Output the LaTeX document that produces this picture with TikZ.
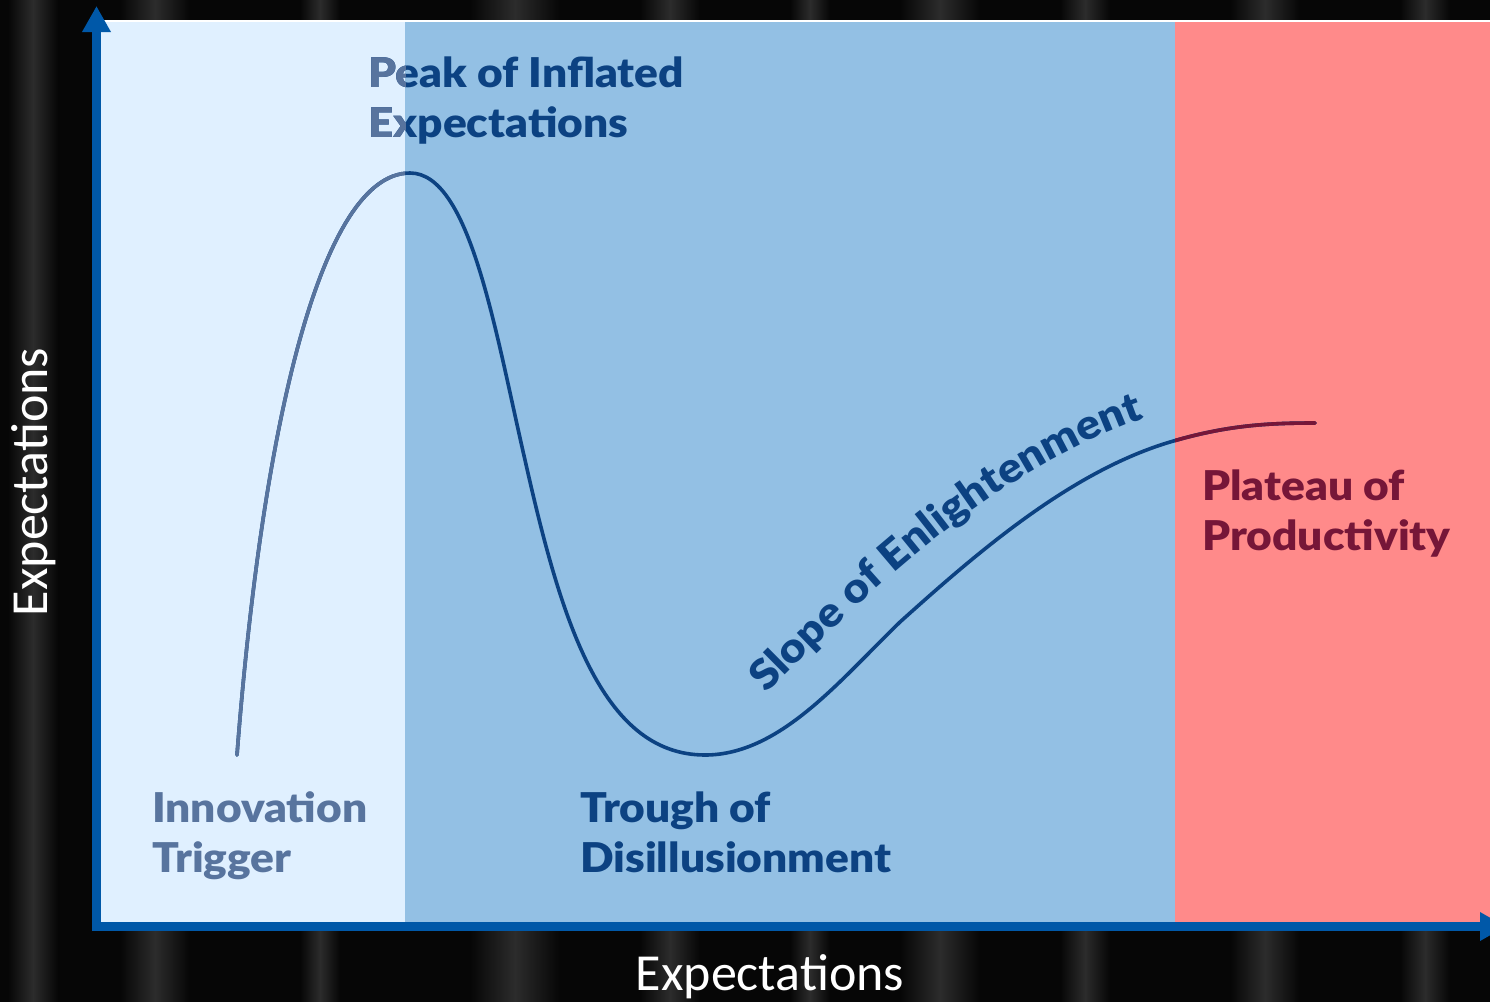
\documentclass[tikz,border=0pt]{standalone}
\usepackage{fontspec}
\setmainfont{Lato}
\newfontfamily\phasefont{Lato Black}[FakeStretch=1.08]
\newfontfamily\axisfont{Carlito}
\usetikzlibrary{arrows.meta,decorations.text}

\definecolor{bgdark}{RGB}{6,6,6}
\definecolor{curtain}{RGB}{44,44,44}
\definecolor{trigbg}{RGB}{224,240,255}
\definecolor{midbg}{RGB}{147,192,228}
\definecolor{platbg}{RGB}{255,138,138}
\definecolor{hypeblue}{RGB}{12,66,130}
\definecolor{hypemuted}{RGB}{88,116,158}
\definecolor{hypemaroon}{RGB}{118,22,56}
\definecolor{axisblue}{RGB}{0,88,168}

\tikzset{
  phase/.style={font=\phasefont\fontsize{41}{50}\selectfont, align=left, inner sep=0pt, anchor=base west},
  axislabel/.style={font=\axisfont\fontsize{52}{54}\selectfont, text=white, inner sep=0pt, anchor=base},
  axisline/.style={axisblue, line width=8.5pt, -{Triangle[width=27pt,length=26pt]}},
  hype/.style={line width=3.6pt, line cap=round}
}

% the hype cycle curve
\newcommand\hypecurve[1]{%
  \draw[hype,#1] (237,755) .. controls (262,430) and (320,173) .. (410,173)
    .. controls (470,173) and (495,330) .. (525,460)
    .. controls (560,615) and (600,755) .. (705,755)
    .. controls (780,755) and (840,680) .. (900,622)
    .. controls (980,550) and (1075,468) .. (1177,440)
    .. controls (1230,425) and (1270,423) .. (1315,423);}

\begin{document}
\begin{tikzpicture}[x=1pt,y=-1pt]
    \useasboundingbox (0,0) rectangle (1490,1001);

    % background
    \fill[bgdark] (-5,-5) rectangle (1495,1010);
    \foreach \sx/\sw in {8/50,120/70,300/40,470/90,640/60,790/40,900/80,1060/50,1230/70,1400/50}
        \shade[left color=bgdark, right color=bgdark, middle color=curtain] (\sx,-5) rectangle (\sx+\sw,1010);

    % phase regions
    \fill[white] (100,20) rectangle (1490,22);
    \fill[trigbg] (100,22) rectangle (405,922);
    \fill[midbg] (405,22) rectangle (1175,922);
    \fill[platbg] (1175,22) rectangle (1495,922);

    % curve, recoloured in the outer regions
    \hypecurve{hypeblue}
    \begin{scope}
        \clip (100,22) rectangle (405,922);
        \hypecurve{hypemuted}
    \end{scope}
    \begin{scope}
        \clip (1175,22) rectangle (1495,922);
        \hypecurve{hypemaroon}
    \end{scope}

    % phase labels
    \node[phase, text=hypeblue] (peak) at (368,137) {Peak of Inflated\\Expectations};
    \begin{scope}
        \clip (100,22) rectangle (405,922);
        \node[phase, text=hypemuted] at (368,137) {Peak of Inflated\\Expectations};
    \end{scope}
    \node[phase, text=hypemuted] (trigger) at (152,872) {Innovation\\Trigger};
    \node[phase, text=hypeblue] (trough) at (580,872) {Trough of\\Disillusionment};
    \node[phase, text=hypemaroon] (plateau) at (1202,550) {Plateau of\\Productivity};

    % slope label along the curve
    \path[decorate, decoration={text along path, text align=left,
        text={|\phasefont\fontsize{41.5}{43}\selectfont\color{hypeblue}|Slope of Enlightenment}}]
        (766,694) .. controls (880,580) and (1000,466) .. (1156,414);

    % axes
    \coordinate (origin) at (96.5,926.5);
    \coordinate (ytip) at (96.5,6);
    \coordinate (xstart) at (92,926.5);
    \coordinate (xtip) at (1506,926.5);
    \draw[axisline] (origin) -- (ytip);
    \draw[axisline] (xstart) -- (xtip);

    % axis labels
    \node[axislabel] (xlabel) at (770,990) {Expectations};
    \node[axislabel, rotate=90] (ylabel) at (47,482) {Expectations};
\end{tikzpicture}
\end{document}
